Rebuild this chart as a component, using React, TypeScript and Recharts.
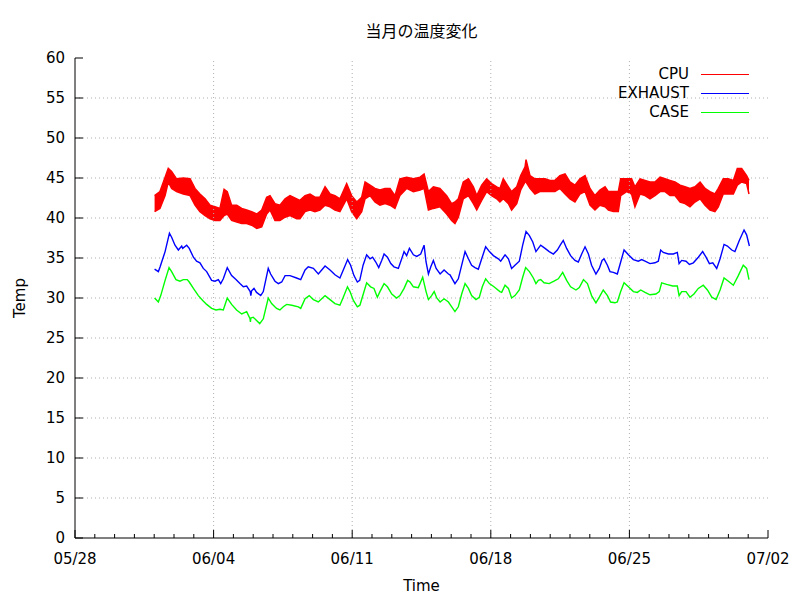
import React from 'react';
import { ComposedChart, Line, Area, XAxis, YAxis, CartesianGrid, ReferenceLine, Legend } from 'recharts';

// Time axis: days since 05/28 00:00
const xTickDays = [0, 1, 2, 3, 4, 5, 6, 7, 8, 9, 10, 11, 12, 13, 14, 15, 16, 17, 18, 19, 20, 21, 22, 23, 24, 25, 26, 27, 28, 29, 30, 31, 32, 33, 34, 35];
const xMajorDays = [0, 7, 14, 21, 28, 35];
const xTickLabels = ['05/28', '06/04', '06/11', '06/18', '06/25', '07/02'];
const yTicks = [0, 5, 10, 15, 20, 25, 30, 35, 40, 45, 50, 55, 60];
const yGridTicks = [5, 10, 15, 20, 25, 30, 35, 40, 45, 50, 55];

const seriesNames = ['CPU', 'EXHAUST', 'CASE'];

// CPU: noisy band, lower and upper envelope
const cpuDays = [4.02, 4.29, 4.55, 4.71, 4.88, 5.13, 5.47, 5.81, 6.06, 6.31, 6.57, 6.82, 7.07, 7.32, 7.53, 7.69, 7.91, 8.17, 8.42, 8.67, 8.92, 9.18, 9.43, 9.68, 9.85, 10.1, 10.35, 10.61, 10.86, 11.2, 11.36, 11.62, 11.87, 12.12, 12.37, 12.63, 12.88, 13.13, 13.38, 13.72, 13.97, 14.23, 14.48, 14.65, 14.9, 15.15, 15.4, 15.66, 15.91, 16.16, 16.41, 16.75, 17.09, 17.43, 17.63, 17.85, 18.1, 18.43, 18.77, 19.02, 19.19, 19.36, 19.61, 19.87, 20.12, 20.29, 20.54, 20.79, 21.04, 21.3, 21.46, 21.63, 21.89, 22.05, 22.31, 22.51, 22.73, 22.78, 22.98, 23.23, 23.48, 23.74, 23.99, 24.24, 24.49, 24.75, 25.0, 25.25, 25.5, 25.76, 26.01, 26.26, 26.51, 26.77, 26.94, 27.19, 27.44, 27.56, 27.86, 28.11, 28.28, 28.54, 28.79, 29.04, 29.29, 29.55, 29.8, 30.05, 30.3, 30.56, 30.81, 31.06, 31.31, 31.57, 31.82, 32.07, 32.32, 32.49, 32.74, 32.99, 33.25, 33.45, 33.67, 33.92, 34.04];
const cpuLow = [40.8, 41.2, 42.8, 44.5, 43.7, 43.3, 43.0, 42.8, 41.6, 40.8, 40.3, 39.9, 39.7, 39.7, 40.3, 40.5, 39.7, 39.5, 39.3, 39.3, 39.1, 38.7, 38.9, 40.5, 41.0, 39.7, 39.7, 40.1, 40.3, 39.9, 39.9, 40.8, 41.0, 40.8, 41.0, 41.6, 41.4, 41.0, 40.8, 42.4, 40.8, 39.9, 40.8, 42.4, 42.8, 42.0, 41.6, 41.8, 41.6, 41.2, 42.8, 43.7, 43.3, 43.5, 43.7, 41.0, 41.2, 41.4, 40.5, 39.7, 39.3, 40.1, 42.4, 42.8, 41.8, 41.0, 42.2, 43.3, 42.8, 42.4, 42.0, 42.4, 41.8, 41.0, 41.8, 43.5, 44.5, 44.5, 43.7, 43.0, 43.3, 43.3, 43.3, 43.3, 43.7, 43.0, 42.4, 42.0, 43.0, 43.3, 41.6, 41.0, 41.6, 41.4, 41.0, 40.8, 40.8, 42.8, 43.3, 43.0, 41.4, 43.0, 42.8, 42.4, 42.8, 43.3, 43.3, 42.8, 42.8, 42.0, 41.8, 41.4, 42.0, 42.4, 41.6, 41.0, 40.8, 41.4, 43.0, 43.0, 43.0, 44.1, 44.5, 44.3, 43.0];
const cpuHigh = [42.8, 43.3, 45.1, 46.2, 45.8, 44.9, 45.0, 44.9, 43.7, 43.0, 42.4, 41.6, 41.4, 41.2, 43.6, 43.3, 41.6, 41.6, 41.2, 41.0, 40.8, 40.5, 41.0, 42.6, 42.8, 41.8, 41.6, 42.4, 42.8, 42.4, 42.2, 42.8, 43.0, 42.6, 42.6, 43.9, 43.0, 42.8, 42.4, 44.3, 42.8, 42.0, 42.6, 44.5, 44.1, 43.7, 43.5, 43.7, 43.7, 42.8, 44.9, 45.1, 44.9, 45.1, 45.5, 43.3, 43.9, 43.7, 42.8, 41.8, 42.0, 42.4, 44.5, 44.9, 43.9, 42.8, 44.1, 44.9, 44.3, 43.9, 43.7, 44.9, 43.9, 43.3, 43.9, 45.3, 46.4, 47.3, 45.3, 44.9, 44.9, 44.9, 44.7, 44.7, 45.3, 45.5, 44.5, 44.1, 44.9, 45.3, 43.7, 42.8, 43.5, 43.9, 43.3, 43.3, 43.3, 44.9, 44.9, 44.9, 43.9, 44.9, 44.7, 44.5, 44.5, 45.1, 44.9, 44.7, 44.5, 44.1, 43.9, 43.7, 43.9, 44.5, 43.7, 43.3, 43.0, 43.7, 44.9, 44.9, 44.7, 46.2, 46.2, 45.3, 44.7];

// EXHAUST
const exhaustDays = [4.02, 4.21, 4.3, 4.55, 4.77, 4.88, 5.05, 5.22, 5.39, 5.44, 5.64, 5.77, 5.98, 6.14, 6.31, 6.48, 6.65, 6.9, 7.07, 7.24, 7.36, 7.49, 7.69, 7.91, 8.13, 8.33, 8.5, 8.67, 8.85, 8.88, 8.92, 9.04, 9.17, 9.38, 9.51, 9.76, 9.88, 10.1, 10.27, 10.44, 10.61, 10.86, 11.19, 11.4, 11.62, 11.78, 12.04, 12.29, 12.46, 12.63, 12.88, 13.13, 13.38, 13.55, 13.77, 13.92, 14.09, 14.26, 14.38, 14.55, 14.73, 14.9, 15.03, 15.19, 15.34, 15.49, 15.61, 15.78, 15.95, 16.11, 16.33, 16.5, 16.62, 16.75, 16.89, 17.09, 17.26, 17.46, 17.63, 17.73, 17.85, 17.97, 18.1, 18.24, 18.44, 18.64, 18.86, 18.94, 19.19, 19.36, 19.53, 19.7, 19.87, 20.03, 20.2, 20.37, 20.54, 20.74, 20.93, 21.13, 21.38, 21.5, 21.72, 21.89, 22.05, 22.22, 22.44, 22.61, 22.78, 22.95, 23.12, 23.28, 23.4, 23.52, 23.74, 23.95, 24.16, 24.36, 24.53, 24.66, 24.83, 25.03, 25.25, 25.42, 25.59, 25.76, 25.93, 26.09, 26.31, 26.48, 26.62, 26.72, 26.89, 27.02, 27.19, 27.39, 27.56, 27.73, 27.95, 28.2, 28.45, 28.62, 28.79, 29.04, 29.29, 29.46, 29.58, 29.71, 29.97, 30.22, 30.42, 30.51, 30.64, 30.86, 31.03, 31.23, 31.48, 31.7, 31.87, 32.04, 32.21, 32.41, 32.58, 32.78, 32.95, 33.17, 33.33, 33.55, 33.79, 33.92, 34.06];
const exhaustTemps = [33.6, 33.3, 33.9, 35.8, 38.1, 37.6, 36.6, 36.0, 36.5, 36.2, 36.6, 36.2, 35.1, 34.6, 34.4, 33.7, 33.3, 32.2, 32.1, 32.3, 31.8, 32.4, 33.8, 32.8, 32.3, 31.8, 31.4, 31.5, 30.8, 30.3, 30.9, 31.2, 30.7, 30.3, 30.8, 33.7, 33.0, 32.1, 31.8, 32.0, 32.8, 32.8, 32.5, 32.3, 33.5, 33.9, 33.7, 33.0, 33.5, 34.0, 33.5, 32.9, 32.5, 33.5, 34.8, 34.1, 32.8, 32.0, 32.2, 34.1, 35.4, 34.9, 35.1, 34.5, 33.8, 34.7, 35.5, 35.1, 34.3, 33.9, 33.7, 34.9, 35.8, 35.3, 36.2, 35.4, 35.2, 35.5, 36.6, 34.5, 33.0, 33.9, 34.7, 33.7, 33.0, 33.5, 33.0, 32.9, 31.8, 32.4, 34.1, 35.8, 34.9, 34.1, 33.8, 33.6, 34.9, 36.4, 35.8, 35.3, 34.9, 34.6, 35.4, 34.9, 33.7, 34.1, 34.6, 36.6, 38.3, 37.8, 37.0, 35.8, 36.2, 36.6, 36.2, 35.8, 35.5, 36.0, 36.7, 37.2, 36.2, 35.3, 34.7, 34.5, 35.5, 36.4, 35.5, 34.1, 33.0, 33.7, 34.7, 34.9, 34.1, 33.3, 33.2, 33.0, 34.5, 36.0, 35.4, 34.8, 34.6, 34.8, 34.6, 34.3, 34.4, 34.6, 36.0, 35.7, 35.5, 35.5, 35.7, 34.3, 34.7, 34.6, 34.2, 34.4, 35.1, 35.8, 35.1, 34.3, 34.4, 33.7, 34.9, 36.7, 36.5, 36.0, 35.8, 37.2, 38.5, 37.9, 36.5];

// CASE
const caseDays = [4.02, 4.21, 4.33, 4.55, 4.75, 4.88, 5.1, 5.3, 5.47, 5.67, 5.77, 5.98, 6.23, 6.45, 6.65, 6.9, 7.12, 7.32, 7.49, 7.69, 7.91, 8.16, 8.42, 8.67, 8.84, 8.86, 8.88, 9.0, 9.17, 9.33, 9.51, 9.76, 9.93, 10.18, 10.35, 10.52, 10.69, 10.95, 11.28, 11.4, 11.62, 11.83, 12.04, 12.29, 12.46, 12.63, 12.88, 13.13, 13.38, 13.55, 13.76, 13.89, 14.06, 14.26, 14.39, 14.56, 14.73, 14.93, 15.1, 15.27, 15.4, 15.61, 15.78, 16.0, 16.24, 16.41, 16.62, 16.8, 16.92, 17.09, 17.34, 17.56, 17.73, 17.85, 18.01, 18.14, 18.27, 18.44, 18.64, 18.86, 18.94, 19.19, 19.36, 19.53, 19.7, 19.87, 20.03, 20.25, 20.42, 20.57, 20.74, 20.93, 21.16, 21.46, 21.55, 21.72, 21.89, 22.05, 22.22, 22.44, 22.61, 22.76, 22.95, 23.15, 23.28, 23.4, 23.52, 23.69, 23.95, 24.19, 24.41, 24.63, 24.83, 25.03, 25.3, 25.47, 25.68, 25.88, 26.09, 26.31, 26.48, 26.68, 26.89, 27.05, 27.27, 27.39, 27.56, 27.73, 27.95, 28.2, 28.4, 28.57, 28.79, 29.04, 29.34, 29.51, 29.63, 29.88, 30.19, 30.42, 30.51, 30.64, 30.86, 31.06, 31.26, 31.48, 31.73, 31.94, 32.16, 32.38, 32.58, 32.78, 33.0, 33.25, 33.5, 33.75, 33.92, 34.04];
const caseTemps = [30.0, 29.5, 30.3, 32.2, 33.8, 33.3, 32.3, 32.1, 32.3, 32.3, 32.0, 31.2, 30.3, 29.7, 29.2, 28.7, 28.5, 28.6, 28.5, 30.0, 29.2, 28.5, 28.0, 28.3, 27.4, 27.0, 27.5, 27.6, 27.2, 26.8, 27.4, 30.0, 29.3, 28.7, 28.5, 28.9, 29.2, 29.1, 28.9, 28.7, 29.9, 30.3, 29.8, 29.5, 29.9, 30.3, 29.8, 29.3, 29.1, 30.1, 31.4, 30.8, 29.7, 28.9, 29.1, 30.5, 31.9, 31.4, 31.2, 30.1, 30.8, 31.8, 31.4, 30.5, 30.0, 30.3, 31.2, 32.2, 32.0, 31.4, 31.3, 32.6, 30.8, 29.8, 30.3, 30.8, 30.0, 29.5, 29.9, 29.5, 29.2, 28.3, 28.9, 30.5, 31.8, 31.2, 30.3, 29.8, 30.1, 31.4, 32.4, 31.8, 31.4, 30.8, 30.7, 31.6, 31.2, 30.0, 30.3, 31.0, 32.6, 33.8, 33.3, 32.5, 31.8, 32.2, 32.3, 31.9, 31.8, 32.1, 32.4, 33.2, 32.2, 31.4, 31.0, 31.3, 32.3, 31.8, 30.3, 29.4, 30.1, 31.0, 30.3, 29.5, 29.4, 29.5, 30.8, 31.9, 31.4, 30.8, 30.7, 31.0, 30.7, 30.4, 30.5, 30.8, 31.9, 31.7, 31.5, 31.5, 30.3, 30.8, 30.8, 30.1, 30.5, 31.2, 31.6, 31.0, 30.1, 29.8, 31.0, 32.5, 32.1, 31.6, 32.8, 34.1, 33.7, 32.3];

const cpuData = cpuDays.map((d, i) => ({ d, range: [cpuLow[i], cpuHigh[i]] }));
const exhaustData = exhaustDays.map((d, i) => ({ d, t: exhaustTemps[i] }));
const caseData = caseDays.map((d, i) => ({ d, t: caseTemps[i] }));

const FONT = '"DejaVu Sans", sans-serif';
const CPU_COLOR = '#ff0000';
const EXHAUST_COLOR = '#0000ff';
const CASE_COLOR = '#00ff00';
const seriesColors = [CPU_COLOR, EXHAUST_COLOR, CASE_COLOR];
const GRID_COLOR = '#b0b0b0';

const BottomTick = (props: any) => {
  const { x, y, payload } = props;
  const idx = xMajorDays.indexOf(payload.value);
  const len = idx >= 0 ? 8 : 4;
  return (
    <g>
      <line x1={x} x2={x} y1={y} y2={y - len} stroke="#000" strokeWidth={1} />
      {idx >= 0 && (
        <text x={x} y={y + 21} textAnchor="middle" dominantBaseline="central" fontFamily={FONT} fontSize={15} fill="#000">
          {xTickLabels[idx]}
        </text>
      )}
    </g>
  );
};

const TopTick = (props: any) => {
  const { x, y, payload } = props;
  const len = xMajorDays.indexOf(payload.value) >= 0 ? 8 : 4;
  return <line x1={x} x2={x} y1={y} y2={y + len} stroke="#000" strokeWidth={1} />;
};

const LeftTick = (props: any) => {
  const { x, y, payload } = props;
  return (
    <g>
      <line x1={x} x2={x + 8} y1={y} y2={y} stroke="#000" strokeWidth={1} />
      <text x={x - 10} y={y} textAnchor="end" dominantBaseline="central" fontFamily={FONT} fontSize={15} fill="#000">
        {payload.value}
      </text>
    </g>
  );
};

const RightTick = (props: any) => {
  const { x, y } = props;
  return <line x1={x} x2={x - 8} y1={y} y2={y} stroke="#000" strokeWidth={1} />;
};

const renderLegend = () => (
  <div style={{ fontFamily: FONT, fontSize: 15, color: '#000' }}>
    {seriesNames.map((n, i) => (
      <div key={n} style={{ display: 'flex', alignItems: 'center', justifyContent: 'flex-end', height: 19 }}>
        <span style={{ lineHeight: '19px' }}>{n}</span>
        <span style={{ display: 'inline-block', width: 48, height: 0, borderTop: `1px solid ${seriesColors[i]}`, marginLeft: 12 }} />
      </div>
    ))}
  </div>
);

export default function App() {
  return (
    <div style={{ position: 'absolute', left: 0, top: 0, width: 800, height: 600, background: '#fff' }}>
      <div style={{ position: 'absolute', left: 75, top: 20, width: 693, textAlign: 'center', fontFamily: '"Noto Sans CJK JP", sans-serif', fontSize: 16, lineHeight: '20px', color: '#000' }}>
        当月の温度変化
      </div>
      <ComposedChart width={800} height={600} margin={{ top: 58, right: 32, bottom: 0, left: 0 }}>
        <CartesianGrid vertical={false} horizontalValues={yGridTicks} stroke={GRID_COLOR} strokeDasharray="1 3" />
        {[7, 14, 21, 28].map((d) => (
          <ReferenceLine key={d} x={d} stroke={GRID_COLOR} strokeDasharray="1 3" />
        ))}
        <XAxis
          dataKey="d"
          type="number"
          domain={[0, 35]}
          ticks={xTickDays}
          interval={0}
          height={62}
          tickSize={0}
          tickMargin={0}
          tickLine={false}
          axisLine={{ stroke: '#000' }}
          tick={BottomTick}
          allowDataOverflow
        />
        <XAxis
          xAxisId="top"
          orientation="top"
          dataKey="d"
          type="number"
          domain={[0, 35]}
          ticks={xTickDays}
          interval={0}
          height={0}
          tickSize={0}
          tickMargin={0}
          tickLine={false}
          axisLine={{ stroke: '#000' }}
          tick={TopTick}
          allowDataOverflow
        />
        <YAxis
          type="number"
          domain={[0, 60]}
          ticks={yTicks}
          interval={0}
          width={75}
          tickSize={0}
          tickMargin={0}
          tickLine={false}
          axisLine={{ stroke: '#000' }}
          tick={LeftTick}
          allowDataOverflow
        />
        <YAxis
          yAxisId="right"
          orientation="right"
          type="number"
          domain={[0, 60]}
          ticks={yTicks}
          interval={0}
          width={0}
          tickSize={0}
          tickMargin={0}
          tickLine={false}
          axisLine={{ stroke: '#000' }}
          tick={RightTick}
          allowDataOverflow
        />
        <Area
          data={cpuData}
          dataKey="range"
          name="CPU"
          type="linear"
          stroke={CPU_COLOR}
          strokeWidth={1.5}
          fill={CPU_COLOR}
          fillOpacity={1}
          dot={false}
          activeDot={false}
          isAnimationActive={false}
        />
        <Line data={exhaustData} dataKey="t" name="EXHAUST" type="linear" stroke={EXHAUST_COLOR} strokeWidth={1.4} dot={false} activeDot={false} isAnimationActive={false} />
        <Line data={caseData} dataKey="t" name="CASE" type="linear" stroke={CASE_COLOR} strokeWidth={1.4} dot={false} activeDot={false} isAnimationActive={false} />
        <Legend
          layout="vertical"
          align="center"
          verticalAlign="middle"
          content={renderLegend}
          wrapperStyle={{ position: 'absolute', left: 540, top: 65, width: 209 }}
        />
      </ComposedChart>
      <div style={{ position: 'absolute', left: 75, top: 576, width: 693, textAlign: 'center', fontFamily: FONT, fontSize: 15, lineHeight: '20px', color: '#000' }}>
        Time
      </div>
      <div style={{ position: 'absolute', left: -30, top: 288, width: 100, height: 20, textAlign: 'center', fontFamily: FONT, fontSize: 15, lineHeight: '20px', color: '#000', transform: 'rotate(-90deg)' }}>
        Temp
      </div>
    </div>
  );
}
